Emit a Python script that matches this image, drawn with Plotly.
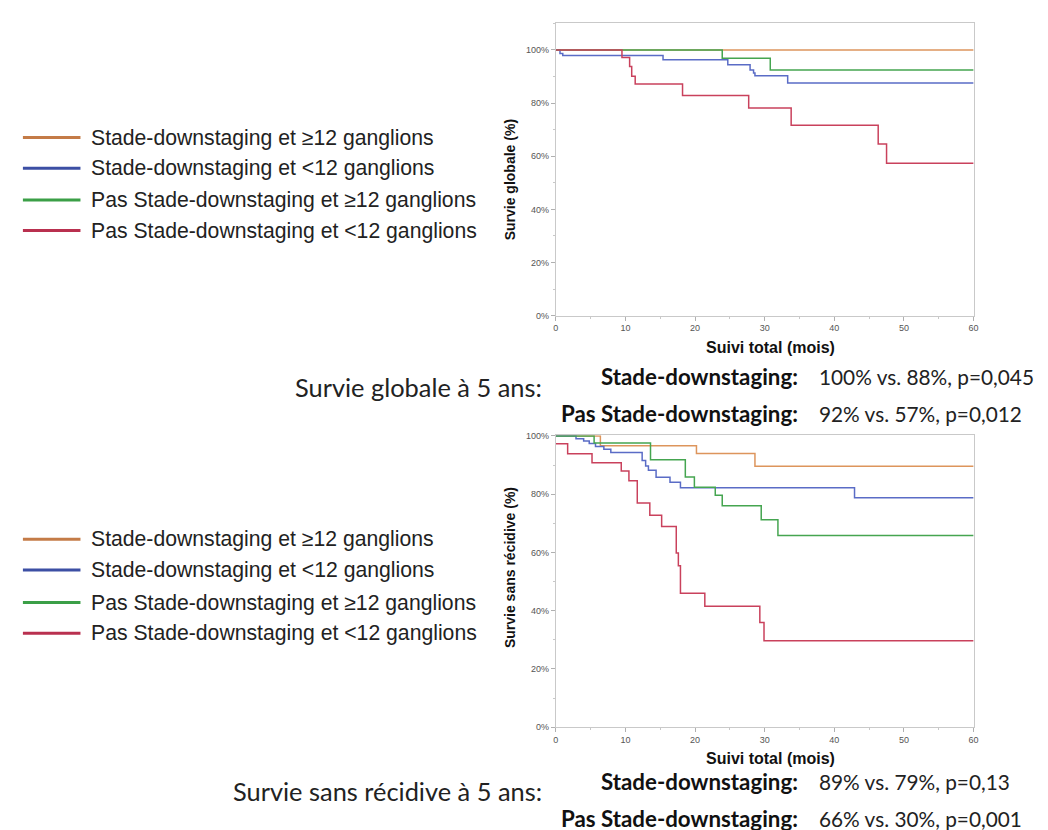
import plotly.graph_objects as go

W, H = 1048, 830

# ---------------- data ----------------
group_names = [
    "Stade-downstaging et ≥12 ganglions",
    "Stade-downstaging et <12 ganglions",
    "Pas Stade-downstaging et ≥12 ganglions",
    "Pas Stade-downstaging et <12 ganglions",
]

# Survie globale (top)
os_orange_t = [0, 60]
os_orange_s = [100, 100]
os_blue_t = [0, 0.6, 1.0, 15.4, 24.7, 27.9, 28.4, 28.6, 33.3, 60]
os_blue_s = [100, 98.7, 97.9, 96.3, 94.4, 92.5, 91.3, 90.3, 87.6, 87.6]
os_green_t = [0, 23.9, 30.8, 60]
os_green_s = [100, 96.9, 92.5, 92.5]
os_red_t = [0, 9.5, 10.6, 10.9, 11.4, 18.2, 27.7, 33.8, 46.3, 47.5, 60]
os_red_s = [100, 97.2, 93.8, 90.1, 87.2, 82.9, 78.2, 71.7, 64.6, 57.4, 57.4]

# Survie sans récidive (bottom)
rfs_orange_t = [0, 6.4, 20.2, 28.6, 60]
rfs_orange_s = [100, 96.6, 94.0, 89.6, 89.6]
rfs_blue_t = [0, 2.9, 4.0, 4.8, 5.7, 6.9, 7.9, 12.4, 12.9, 13.3, 14.4, 16.4, 17.9, 42.9, 60]
rfs_blue_s = [100, 99.0, 98.3, 97.4, 96.4, 95.4, 94.3, 91.6, 89.7, 88.2, 85.8, 84.1, 82.2, 78.8, 78.8]
rfs_green_t = [0, 5.5, 13.6, 18.6, 19.9, 22.9, 23.9, 29.5, 31.9, 60]
rfs_green_s = [100, 97.6, 91.8, 85.9, 82.4, 79.6, 76.0, 71.2, 65.8, 65.8]
rfs_red_t = [0, 1.7, 5.2, 9.4, 10.5, 11.7, 13.5, 15.2, 17.3, 17.6, 17.9, 21.4, 29.3, 29.9, 60]
rfs_red_s = [97.3, 93.9, 90.8, 88.0, 84.6, 77.0, 72.8, 68.9, 59.8, 55.4, 46.0, 41.5, 35.9, 29.7, 29.7]

x_ticks = [0, 10, 20, 30, 40, 50, 60]
y_ticks = [0, 20, 40, 60, 80, 100]
y_ticklabels = ["0%", "20%", "40%", "60%", "80%", "100%"]

os_title = "Survie globale à 5 ans:"
rfs_title = "Survie sans récidive à 5 ans:"
os_rows = [("Stade-downstaging:", "100% vs. 88%, p=0,045"),
           ("Pas Stade-downstaging:", "92% vs. 57%, p=0,012")]
rfs_rows = [("Stade-downstaging:", "89% vs. 79%, p=0,13"),
            ("Pas Stade-downstaging:", "66% vs. 30%, p=0,001")]

# ---------------- styling ----------------
plot_colors = ["#dd955c", "#5a6cc6", "#45a550", "#c9415c"]
legend_colors = ["#c47b47", "#3c4fa4", "#3b9f47", "#b9304f"]
AX = "Liberation Sans"
CAL = "Lato"

def px(x):
    return x / W

def py(y):
    return 1 - y / H

fig = go.Figure()

top = [(os_orange_t, os_orange_s), (os_blue_t, os_blue_s),
       (os_green_t, os_green_s), (os_red_t, os_red_s)]
bot = [(rfs_orange_t, rfs_orange_s), (rfs_blue_t, rfs_blue_s),
       (rfs_green_t, rfs_green_s), (rfs_red_t, rfs_red_s)]

for i, (t, s) in enumerate(top):
    fig.add_trace(go.Scatter(x=t, y=s, mode="lines", line=dict(shape="hv", color=plot_colors[i], width=1.5),
                             xaxis="x", yaxis="y", showlegend=False, name=group_names[i]))
for i, (t, s) in enumerate(bot):
    fig.add_trace(go.Scatter(x=t, y=s, mode="lines", line=dict(shape="hv", color=plot_colors[i], width=1.5),
                             xaxis="x2", yaxis="y2", showlegend=False, name=group_names[i]))

axis_common = dict(
    showline=True, mirror=True, linecolor="#c9c9c9", linewidth=1,
    showgrid=False, zeroline=False,
    ticks="outside", ticklen=4, tickcolor="#b0b0b0",
    tickfont=dict(family=AX, size=9, color="#555555"),
    minor=dict(ticks="outside", ticklen=2, tickcolor="#c8c8c8"),
)

fig.update_layout(
    width=W, height=H, margin=dict(l=0, r=0, t=0, b=0),
    paper_bgcolor="white", plot_bgcolor="white",
    xaxis=dict(domain=[px(549), px(970)], range=[0, 60], tickvals=x_ticks,
               minor_dtick=5, anchor="y", **axis_common),
    yaxis=dict(domain=[py(307), py(11)], range=[0, 110.2], tickvals=y_ticks,
               ticktext=y_ticklabels, minor_dtick=10, anchor="x", **axis_common),
    xaxis2=dict(domain=[px(549), px(970)], range=[0, 60], tickvals=x_ticks,
                minor_dtick=5, anchor="y2", **axis_common),
    yaxis2=dict(domain=[py(723), py(428)], range=[0, 100.2], tickvals=y_ticks,
                ticktext=y_ticklabels, minor_dtick=10, anchor="x2", **axis_common),
)

ann = []
# axis titles
for yy in (339, 755):
    ann.append(dict(text="<b>Suivi total (mois)</b>", x=px(765), y=py(yy), xref="paper", yref="paper",
                    showarrow=False, xanchor="center", yanchor="middle",
                    font=dict(family=AX, size=16, color="#111111")))
ann.append(dict(text="<b>Survie globale (%)</b>", x=px(503), y=py(170), xref="paper", yref="paper",
                showarrow=False, textangle=-90, xanchor="center", yanchor="middle",
                font=dict(family=AX, size=14, color="#111111")))
ann.append(dict(text="<b>Survie sans récidive (%)</b>", x=px(503), y=py(562), xref="paper", yref="paper",
                showarrow=False, textangle=-90, xanchor="center", yanchor="middle",
                font=dict(family=AX, size=14, color="#111111")))

# summary text blocks
def block(title, rows, y_title, y_rows):
    ann.append(dict(text=title, x=px(537), y=py(y_title), xref="paper", yref="paper",
                    showarrow=False, xanchor="right", yanchor="middle",
                    font=dict(family=CAL, size=25.4, color="#222222")))
    for (lab, val), yy in zip(rows, y_rows):
        ann.append(dict(text="<b>" + lab + "</b>", x=px(795), y=py(yy), xref="paper", yref="paper",
                        showarrow=False, xanchor="right", yanchor="middle",
                        font=dict(family=CAL, size=22.3, color="#111111")))
        ann.append(dict(text=val, x=px(812), y=py(yy), xref="paper", yref="paper",
                        showarrow=False, xanchor="left", yanchor="middle",
                        font=dict(family=CAL, size=20.8, color="#222222")))

block(os_title, os_rows, 379, [368, 406])
block(rfs_title, rfs_rows, 788, [778, 815])

# legends
shapes = []
def legend(y_rows):
    for i, yy in enumerate(y_rows):
        shapes.append(dict(type="line", xref="paper", yref="paper", x0=px(12), x1=px(70),
                           y0=py(yy), y1=py(yy), line=dict(color=legend_colors[i], width=3)))
        ann.append(dict(text=group_names[i], x=px(79), y=py(yy), xref="paper", yref="paper",
                        showarrow=False, xanchor="left", yanchor="middle",
                        font=dict(family=AX, size=21.2, color="#222222")))

legend([127, 158, 190, 221])
legend([533, 564, 597, 628])

fig.update_layout(annotations=ann, shapes=shapes)
fig.write_html("out.html")
